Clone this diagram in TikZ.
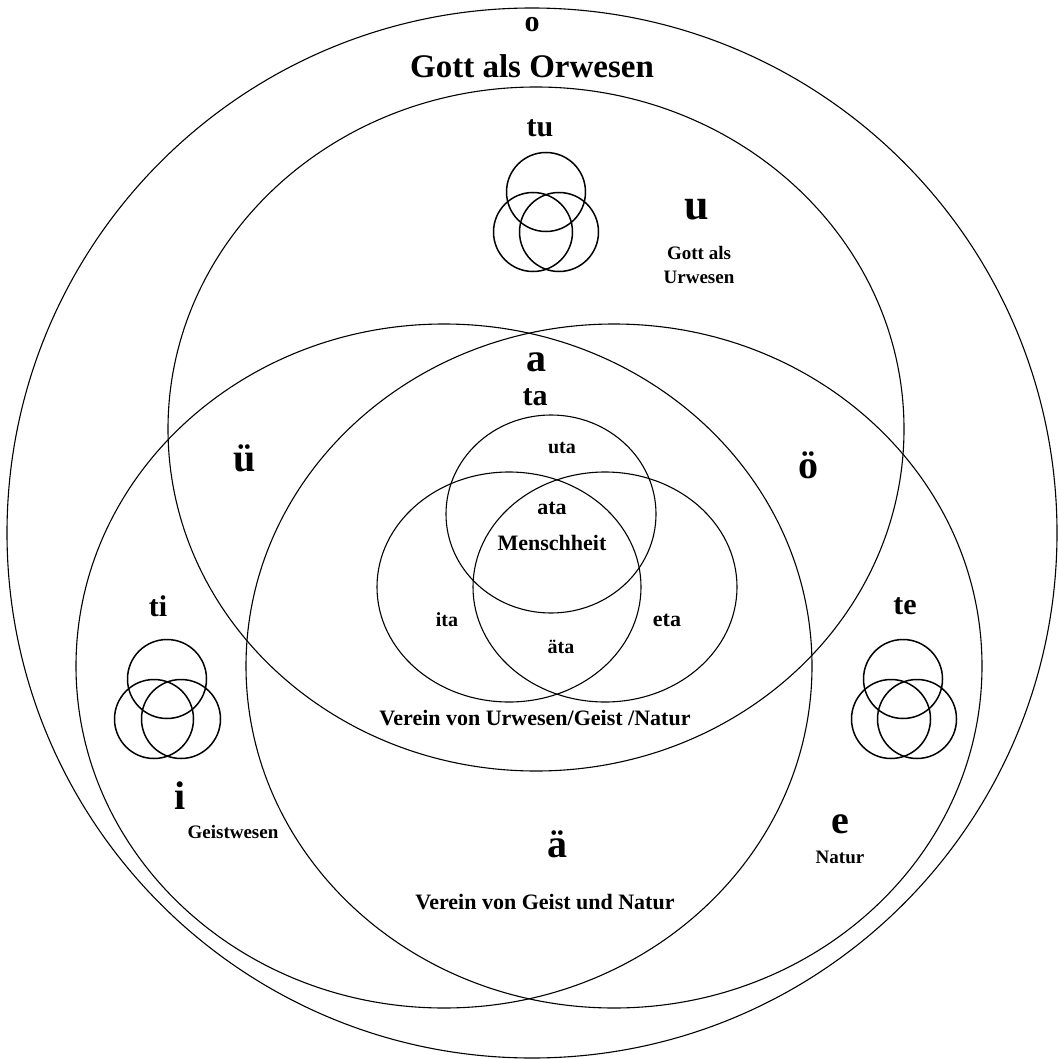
\documentclass[tikz,border=0pt]{standalone}
\usepackage{fontspec}
\setmainfont{Liberation Serif}
\begin{document}
\begin{tikzpicture}[x=1pt,y=-1pt,line width=1.1pt,
  bigtxt/.style={font=\fontsize{40}{40}\selectfont\bfseries},
  midtxt/.style={font=\fontsize{30}{30}\selectfont\bfseries},
  lbltxt/.style={font=\fontsize{22}{22}\selectfont\bfseries},
  smalltxt/.style={font=\fontsize{19}{24}\selectfont\bfseries,align=center},
  trio/.style={line width=1.5pt}]
\useasboundingbox (0,0) rectangle (1058,1059);

% great circles
\draw (532,533) circle [radius=525];
\draw (536,429) ellipse [x radius=368, y radius=342];
\draw (444,666) ellipse [x radius=368, y radius=342];
\draw (614,666) ellipse [x radius=368, y radius=342];

% humanity
\draw (551,514) ellipse [x radius=105, y radius=99];
\draw (509,587) ellipse [x radius=132, y radius=115];
\draw (605,587) ellipse [x radius=132, y radius=115];

% tu
\draw [trio] (546,192) circle [radius=39.5];
\draw [trio] (533,232) circle [radius=39.5];
\draw [trio] (559,232) circle [radius=39.5];

% ti
\draw [trio] (167,679) circle [radius=39.5];
\draw [trio] (154,719) circle [radius=39.5];
\draw [trio] (181,719) circle [radius=39.5];

% te
\draw [trio] (903,679) circle [radius=39.5];
\draw [trio] (891,719) circle [radius=39.5];
\draw [trio] (917,719) circle [radius=39.5];

\node [midtxt] (o) at (532,25) {o};
\node [font=\fontsize{33}{33}\selectfont\bfseries] (orw) at (532,66) {Gott als Orwesen};

\node [midtxt] (tu) at (540,128) {tu};
\node [font=\fontsize{44}{44}\selectfont\bfseries] (u) at (697,210) {u};
\node [smalltxt] (urw) at (699,265) {Gott als\\Urwesen};

\node [bigtxt] (a) at (536,362) {a};
\node [midtxt] (ta) at (535,397) {ta};
\node [bigtxt] (ue) at (245,458) {ü};
\node [bigtxt] (oe) at (808,465) {ö};

\node [font=\fontsize{20}{20}\selectfont\bfseries] (uta) at (562,448) {uta};
\node [lbltxt] (ata) at (552,508) {ata};
\node [lbltxt] (mensch) at (552,543) {Menschheit};
\node [font=\fontsize{20}{20}\selectfont\bfseries] (ita) at (447,620) {ita};
\node [lbltxt] (eta) at (667,620) {eta};
\node [font=\fontsize{20}{20}\selectfont\bfseries] (aeta) at (561,647) {äta};

\node [midtxt] (ti) at (158,606) {ti};
\node [midtxt] (te) at (905,606) {te};
\node [lbltxt] (verein1) at (535,718) {Verein von Urwesen/Geist /Natur};

\node [bigtxt] (i) at (180,796) {i};
\node [smalltxt] (geist) at (233,832) {Geistwesen};
\node [bigtxt] (ae) at (557,844) {ä};
\node [bigtxt] (e) at (840,824) {e};
\node [smalltxt] (natur) at (840,857) {Natur};
\node [lbltxt] (verein2) at (545,902) {Verein von Geist und Natur};
\end{tikzpicture}
\end{document}
